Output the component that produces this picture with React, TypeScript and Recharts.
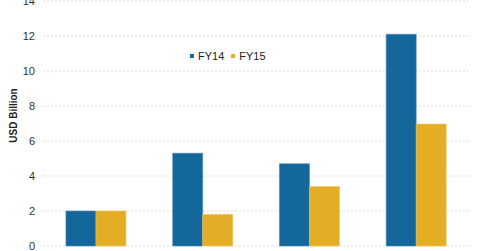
import { BarChart, Bar, XAxis, YAxis, CartesianGrid, Legend } from "recharts";

const categories = ["A", "B", "C", "D"];
const fy14 = [2, 5.3, 4.7, 12.1];
const fy15 = [2, 1.8, 3.4, 6.97];
const yTicks = [0, 2, 4, 6, 8, 10, 12, 14];

const data = categories.map((name, i) => ({ name, FY14: fy14[i], FY15: fy15[i] }));

const FONT = "'Liberation Sans', Arial, sans-serif";

function LegendContent({ payload }: any) {
  return (
    <div style={{ display: "flex", alignItems: "center", fontFamily: FONT, fontSize: 11, color: "#222" }}>
      {(payload || []).map((p: any) => (
        <div key={p.value} style={{ display: "flex", alignItems: "center", marginRight: 7 }}>
          <div style={{ width: 4, height: 4, background: p.color, marginRight: 4 }} />
          <span>{p.value}</span>
        </div>
      ))}
    </div>
  );
}

export default function App() {
  return (
    <div style={{ position: "absolute", left: 0, top: 0, width: 480, height: 251, background: "#fff" }}>
      <BarChart
        width={480}
        height={251}
        data={data}
        margin={{ top: 1, right: 10, left: 0, bottom: 5 }}
        barCategoryGap="21.5%"
        barGap={0}
      >
        <CartesianGrid strokeDasharray="2 2" stroke="#dcdcdc" vertical={false} />
        <XAxis dataKey="name" tick={false} tickLine={false} height={0} axisLine={{ stroke: "#d9d9d9" }} />
        <YAxis
          domain={[0, 14]}
          ticks={yTicks}
          interval={0}
          width={43}
          axisLine={false}
          tickLine={false}
          tick={{ fill: "#333", fontSize: 11, fontFamily: FONT }}
          label={{
            value: "USD Billion",
            angle: -90,
            position: "insideLeft",
            dx: 8,
            dy: -8,
            style: { fontSize: 10, fontWeight: "bold", fill: "#222", fontFamily: FONT, textAnchor: "middle" },
          }}
        />
        <Legend
          content={<LegendContent />}
          layout="horizontal"
          verticalAlign="middle"
          align="center"
          wrapperStyle={{ top: 50, left: 190, width: "auto" }}
        />
        <Bar dataKey="FY14" fill="#13679a" stroke="#4a86b4" strokeWidth={0.6} isAnimationActive={false} />
        <Bar dataKey="FY15" fill="#e3ad26" stroke="#efc45a" strokeWidth={0.6} isAnimationActive={false} />
      </BarChart>
    </div>
  );
}
